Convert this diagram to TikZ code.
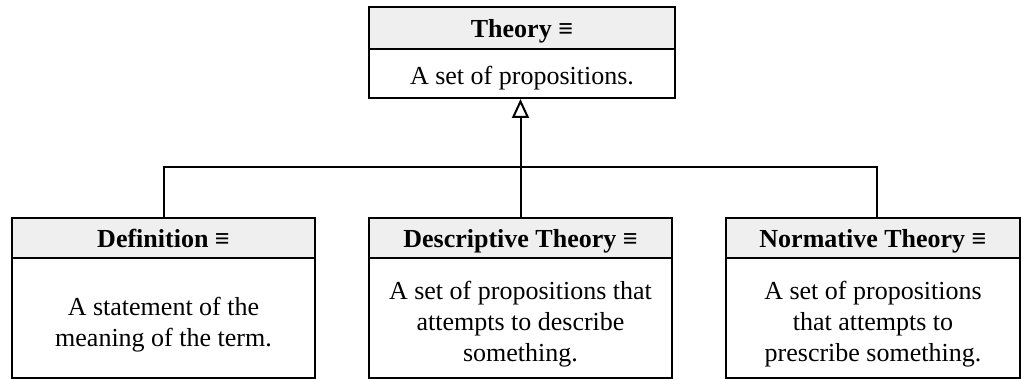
\documentclass[tikz,border=0pt]{standalone}
\usepackage{fontspec}
\setmainfont{Liberation Serif}
\usetikzlibrary{arrows.meta}
\definecolor{hdrgray}{HTML}{EFEFEF}
\newcommand\tstrut[1]{\rule{0pt}{#1}}
\begin{document}
\begin{tikzpicture}[x=1pt,y=-1pt,
  hdr/.style={draw,line width=2pt,fill=hdrgray,minimum height=40pt,inner sep=0pt,
    text height=20pt,text depth=1pt,
    font=\fontsize{26}{31}\selectfont\bfseries},
  bdy/.style={draw,line width=2pt,fill=white,inner sep=0pt,align=center,
    font=\fontsize{26}{31}\selectfont},
  conn/.style={line width=2pt},
  gen/.style={line width=2pt,-{Triangle[fill=white,length=19pt,width=17pt]}}
]
\useasboundingbox (0,0) rectangle (1021,379);
\clip (0,0) rectangle (1021,379);
% top box
\node[hdr,minimum width=306pt,minimum height=42pt] (thH) at (522,28) {Theory ≡};
\node[bdy,minimum width=306pt,minimum height=49pt] (thB) at (522,73.5) {\tstrut{28pt}A set of propositions.};
% bottom boxes
\node[hdr,minimum width=303pt] (defH) at (163.5,238) {Definition ≡};
\node[bdy,minimum width=303pt,minimum height=120pt] (defB) at (163.5,318) {\tstrut{32pt}A statement of the\\meaning of the term.};
\node[hdr,minimum width=303pt] (desH) at (520.5,238) {Descriptive Theory ≡};
\node[bdy,minimum width=303pt,minimum height=120pt] (desB) at (520.5,318) {\tstrut{30pt}A set of propositions that\\attempts to describe\\something.};
\node[hdr,minimum width=294pt] (norH) at (873,238) {Normative Theory ≡};
\node[bdy,minimum width=294pt,minimum height=120pt] (norB) at (873,318) {\tstrut{30pt}A set of propositions\\that attempts to\\prescribe something.};
% connectors
\coordinate (hub) at (521,167);
\draw[gen] (desH.north) -- (desH.north |- thB.south);
\draw[conn] (defH.north) |- (hub) -| ([xshift=4pt]norH.north);
\end{tikzpicture}
\end{document}
